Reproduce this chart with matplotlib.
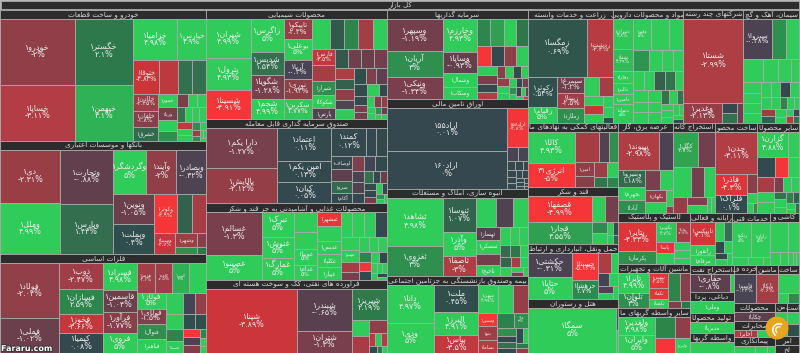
import re
from itertools import zip_longest
import matplotlib
matplotlib.use('Agg')
import matplotlib.pyplot as plt
import matplotlib.patheffects as pe
from matplotlib.colors import LinearSegmentedColormap
from matplotlib.patches import Rectangle, Circle, Wedge

# market cap style values per sector, change in percent
# *_rows: how the cells are grouped, c3 = a column of 3, r4 = a row of 4, the rest goes by the squarify rule
khodro_names = ['خودرو۱', 'خساپا۱', 'خگستر۱', 'خبهمن۱', 'خزامیا۱', 'خپارس۱', 'ختوقا۱', '', '', '', 'خلادن۱', 'خلفان۱', 'خشرق۱', 'خمور۱', 'ورنا۱']
khodro_values = [4810, 4144, 3705, 3192, 1760, 1160, 858, 627, 462, 462, 408, 400, 330, 260, 260, 200, 200, 140, 130, 120, 105, 100, 100, 100, 98, 95, 80, 60, 50, 45, 40, 30, 25, 20]
khodro_pct = [-2, -3.11, 2.1, 4.1, 4.98, 4.9, -3.83, -3.4, 1.6, 1.5, -2.45, -1.8, 1.2, 5, -1.3, 5, 3, -1.3, 5, 5, 2, 5, 5, 5, -3.5, 5, 5, 3, 5, -2.5, 3, 5, 5, 5]
khodro_rows = ['c2', 'c2', 'r2', 'r4', 'c3', 'c4', 'r3', 'r4', 'c3']

bank_names = ['دی۱', 'وملل۱', 'وتجارت۱', 'وپارس۱', 'وگردشگر۱', 'وآیند۱', 'وبصادر۱', 'ونوین۱', 'وبملت۱', 'وکوثر۱', '', '', 'وسینا۱', 'وشهر۱']
bank_values = [3127, 3009, 2756, 2600, 1419, 1290, 1290, 1200, 1200, 858, 585, 546, 420, 290, 150, 130, 70]
bank_pct = [-2.31, 4.99, -0.88, 1.43, 5, -2, -0.32, -1.05, 0.4, -4.9, 1, -2.7, -3.7, -2.5, 3, -1.8, 2]
bank_rows = ['c2', 'c2', 'r3', 'c2', 'r3', 'c1', 'c2', 'c2']

felezat_names = ['فولاد۱', 'فملی۱', 'ذوب۱', 'فسازان۱', 'فخوز۱', 'کیمیا۱', 'فسراد۱', 'قاسمین۱', 'فرآور۱', 'فروی۱', 'هرمز۱', 'کاوه۱', 'کویر۱', '', 'فولاژ۱', 'فولای۱', 'فنوال۱', 'فباهنر۱', '', '', '', '', '', 'فسپا۱']
felezat_values = [3135, 1995, 1118, 1032, 840, 830, 864, 736, 660, 655, 522, 510, 495, 495, 435, 435, 406, 406, 357, 231, 231, 255, 205, 200, 168, 168, 136, 130, 128, 56, 50, 40]
felezat_pct = [-2.04, -1.02, -2.47, 2.59, -3.66, 0.08, 4.98, -1.04, -1.77, 5, -2.6, -2.5, 4, 5, 5, -1.5, 3, 5, 5, -0.1, -2.1, 5, 2.5, 5, 0.4, 0.5, -5, -0.3, -1.6, 2.5, 5, 5]
felezat_rows = ['c2', 'c4', 'c4', 'r4', 'c4', 'r3', 'c3', 'r2', 'c3', 'c3']

shimi_names = ['شیران۱', 'پترول۱', 'شسینا۱', 'زاگرس۱', 'شدیس۱', 'شگویا۱', 'شجم۱', 'تاپیکو۱', 'بوعلی۱', 'آریا۱', 'نوری۱', 'شکربن۱', '', '', '', '', '', 'فارس۱', '', 'شیراز۱', 'شکوکا۱', 'پارس۱']
shimi_values = [1677, 1333, 1247, 1024, 736, 736, 640, 560, 560, 532, 540, 540, 510, 420, 420, 410, 410, 345, 345, 322, 280, 253, 221, 221, 221, 221, 209, 190, 185, 180, 175, 176, 170, 165, 144, 144, 90, 96, 90, 80, 75, 70, 60, 50, 45, 40, 35, 30, 25]
shimi_pct = [4.99, 4.93, -4.91, 5, 1.54, -1.28, 4.99, -2.3, 5, -0.2, -1.93, 4.77, 5, 0.8, 2.5, -2.6, 5, -3.5, -2.7, 3, 5, -0.5, 0.8, -1.1, -1, -1.2, -3, 1, -2, -0.5, 5, 0.5, -1.5, -0.8, 0.3, 5, 0.1, 0.1, -1.3, -1.2, 5, -1.5, -2, 5, 5, 3, -1, 5, 5]
shimi_rows = ['c3', 'c4', 'c5', 'r5', 'c5', 'r4', 'c5', 'r3', 'r3', 'c3']

sandoq_names = ['دارا یکم۱', 'پالایش۱', 'اعتماد۱', 'امین یکم۱', 'کیان۱', 'کمند۱', '', '', 'اوصاف۱', '', 'سرو۱', 'آکام۱']
sandoq_values = [2760, 2415, 1728, 1134, 1080, 952, 280, 280, 252, 252, 231, 210, 165, 165, 165, 130, 125, 117, 100, 85, 85, 80, 75, 70, 60, 50, 40, 30, 20]
sandoq_pct = [-1.27, -2.12, 0.11, 0.13, 0.05, 0.12, 0.05, 0.1, 0.1, -0.8, 1.2, 0.2, -1.5, -0.1, 0.2, -0.3, -0.4, 0.1, 1.5, 0.1, -1, 0.1, 0.1, -1.2, 5, 0.1, 3, 5, 5]
sandoq_rows = ['c2', 'c3', 'r3', 'c4', 'r3', 'c3', 'r3']

ghaza_names = ['غسالم۱', 'غصینو۱', 'تبرک۱', 'غنوش۱', 'غمارگ۱', '', '', 'غویتا۱', 'غدام۱', 'غبشهر۱', '', 'غدیس۱', 'غکلپا۱', 'غپیاز۱', '', '', '', '', '', 'مهنو۱']
ghaza_values = [2279, 1325, 744, 651, 651, 460, 368, 368, 345, 322, 322, 299, 299, 280, 276, 276, 276, 270, 204, 204, 170, 136, 143, 130, 125, 110, 110, 105, 80, 75, 60, 50, 45, 40, 35, 30]
ghaza_pct = [-1.3, 5, 5, 5, 5, 5, 5, 5, 5, -4.6, 5, 5, 5, 5, 5, 5, 5, 0.1, 5, 5, -2.7, -1.3, 5, 5, 5, 2.5, -5, 0.2, 5, 0, 5, 5, 5, 5, 0.1, 5]
ghaza_rows = ['c2', 'c3', 'c4', 'c5', 'r4', 'c4', 'r3', 'c3']

naft_names = ['شپنا۱', 'شبندر۱', 'شتران۱', 'شپریز۱']
naft_values = [5696, 2214, 1188, 1044, 289, 289, 234, 70, 70, 70, 50, 40, 30]
naft_pct = [-3.89, -0.65, -1.3, 2.19, 5, -2.7, -2, -3.3, 5, -3, 0.2, 2, 5]
naft_rows = ['c1', 'c2', 'r1', 'c2', 'r1', 'r3']

sarmaye_names = ['وسپهر۱', 'آریان۱', 'ونیکی۱', 'وخارزم۱', 'وساپا۱', 'وشمال۱', 'وسکاب۱']
sarmaye_values = [1728, 1350, 1188, 1056, 672, 448, 384, 350, 350, 325, 300, 266, 247, 228, 220, 180, 165, 150, 135, 100, 95, 90, 80, 85, 75, 70, 60, 55, 50, 45, 40, 35, 30, 25, 20, 15]
sarmaye_pct = [-1.19, 3, -1.34, 4.93, -0.93, 5, 5, 2.6, 3.5, 5, 2, -5, 0.2, -2, 5, 5, -1.3, 0.1, -3, -1.8, 5, 0.5, 5, -2.2, 5, 5, 5, 0.3, -1.2, 3, 5, 0.1, 5, -1, 5, -4]
sarmaye_rows = ['c3', 'c4', 'r4', 'r4', 'c4', 'r4', 'c3']

oragh_names = ['اراد۱۵۵', 'اراد۱۶۰', 'اراد۱۵۸']
oragh_values = [5031, 4446, 792, 156, 132, 81, 75, 45, 60, 55, 50, 45, 40, 35, 30, 25, 20, 15, 10]
oragh_pct = [0.01, 0, -4.8, -0.2, -0.2, 0.02, 0.02, 0.02, 0.02, 0.02, 0.02, 0.02, 0.02, 0.02, 0.02, 0.02, 0.02, 0.02, 0.02]
oragh_rows = ['c2', 'r1', 'r2', 'r3']

anboh_names = ['ثشاهد۱', 'ثغزوی۱', 'ثنوسا۱', 'وآذر۱', 'ثاصفا۱', '', '', '', 'ثهساز۱', 'ثمسکن۱', '', 'ثاجیج۱']
anboh_values = [2544, 1590, 1056, 736, 608, 540, 459, 405, 310, 305, 260, 250, 170, 160, 150, 130, 120, 90, 100, 90, 80, 70, 60, 50, 40]
anboh_pct = [4.98, 3, 1.07, 5, -3, 5, -0.4, 5, -0.6, 5, -1.2, 5, 5, 5, 5, 1.3, 2, 5, 1.1, 5, -2.6, 5, 5, -1.3, 5]
anboh_rows = ['c2', 'c3', 'r3', 'c4', 'r3', 'r3']

bime_names = ['دانا۱', 'ودی۱', 'ملت۱', 'البرز۱', 'بپاس۱', 'میهن۱', '', '', 'وسین۱', 'بنو۱', 'بساما۱', '', 'ما۱']
bime_values = [1665, 1350, 1134, 924, 756, 520, 390, 390, 247, 247, 240, 240, 205, 125, 115, 100, 90, 90, 70, 60, 50]
bime_pct = [4.97, 5, 0.45, 4.91, -3.5, 4.99, 5, -2.2, -5, -2.5, -3.3, 2.4, 3, 3, 0.2, 1.5, 0.3, 0.4, 5, 2, -2]
bime_rows = ['c2', 'c3', 'r3', 'c3', 'r2', 'c4']

zeraat_names = ['زمگسا۱', 'زدشت۱', 'زکوثر۱', 'زقیام۱', 'سیمرغ۱', 'زبینا۱', 'زملارد۱']
zeraat_values = [3422, 1450, 870, 450, 432, 405, 378, 266, 247, 171, 165, 150, 110, 100, 50]
zeraat_pct = [0.69, -3.3, 0.54, 5, -1.2, -2.5, 3, 5, -2.6, 5, -3.6, 5, 5, 5, 0.5]
zeraat_rows = ['r2', 'c2', 'c3', 'r2', 'c3']

daru_names = ['دتیران۱', 'شفا۱', 'دفارا۱', 'دالبر۱', 'دامین۱', 'دتماد۱', 'وفیر۱']
daru_values = [540, 385, 210, 190, 190, 320, 493, 493, 406, 300, 240, 200, 200, 190, 185, 180, 175, 150, 150, 145, 140, 130, 125, 120, 95, 90, 80, 70, 70, 60, 50, 45, 40, 30]
daru_pct = [4.8, 4.39, 5, 5, 5, 5, 5, 5, 5, 3.2, 5, 5, 5, 5, 5, 1, 2, 5, 5, 5, 5, 5, 5, 5, 2, 5, 1.8, 5, 5, 5, 5, 5, 5, 0]
daru_rows = ['c6', 'r3', 'r4', 'r5', 'c3', 'c3']

chand_names = ['شستا۱', 'وغدیر۱']
chand_values = [4897, 740, 150, 150, 120]
chand_pct = [-2.99, -2.13, 0.1, 1.5, -1.2]
chand_rows = ['r1', 'c1', 'c2', 'c1']

siman_names = ['سبزوا۱']
siman_values = [980, 455, 455, 380, 280, 240, 160, 165, 150, 150, 140, 130, 130, 125, 120, 100, 85, 70, 60, 50, 90, 80, 70, 50, 45, 40, 40, 30]
siman_pct = [-0.28, 3, 5, 5, 5, 5, 5, 5, 5, 5, 5, 5, 5, 0.1, 5, 5, 5, 2.5, 5, 5, -2.4, 1, 5, 5, 5, -0.1, -3.3, 2]
siman_rows = ['r3', 'r4', 'c4', 'r4', 'r5']

komaki_names = ['کالا۱', 'انرژی۳۱', '', '', '', 'امین۱']
komaki_values = [1426, 1104, 690, 300, 270, 266, 209, 180, 165, 130, 110]
komaki_pct = [4.93, -5, -2.7, -0.4, 3, -2, -1.8, -2.4, 5, 2, 2.5]
komaki_rows = ['c2', 'r3', 'c2', 'r2', 'r2']

ghand_names = ['قصفها۱', 'قجار۱']
ghand_values = [1488, 1302, 312, 312, 150, 150, 70, 65, 55, 45]
ghand_pct = [-4.99, 3.55, 5, -1.2, 2.8, 5, 5, 0.5, 5, 1]
ghand_rows = ['c2', 'r2', 'c2', 'r2', 'r2']

haml_names = ['حکشتی۱', 'حتایا۱', 'حسینا۱', 'حرهشا۱']
haml_values = [1032, 903, 675, 475, 247, 133, 144, 120, 96, 90, 60]
haml_pct = [-0.31, 5, -5.14, 2.7, -2.9, 5, -0.1, 5, -0.4, 5, 5]
haml_rows = ['c2', 'c2', 'r2', 'r2']

hotel_names = ['سمگا۱']
hotel_values = [4048, 40, 40]
hotel_pct = [5, 1, 5]
hotel_rows = ['c1', 'c2']

bargh_names = ['بپیوند۱', '', 'وبنیرو۱', 'بجهرم۱', 'آبادا۱', '', '', 'بکهان۱']
bargh_values = [1440, 504, 425, 325, 325, 266, 247, 220, 220, 96, 48]
bargh_pct = [-2.98, -0.3, 1.18, 5, 3, -1.3, 5, -2.2, 5, 5, -2]
bargh_rows = ['r2', 'c3', 'r2', 'c2', 'r1', 'r1']

kane_names = ['کگل۱']
kane_values = [816, 578, 527, 372, 330, 210, 152, 152, 60, 55]
kane_pct = [3.7, -1.2, 5, -1.2, 5, -2.2, -1.5, 5, 5, 5]
kane_rows = ['r2', 'r3', 'c1', 'c2', 'r2']

felez_names = ['چدن۱', 'فاذر۱', 'فلراک۱']
felez_values = [1764, 660, 594, 200, 100, 60, 40]
felez_pct = [-3.11, -4.3, 0.1, -1.8, 5, 5, 3]
felez_rows = ['r1', 'c2', 'r1', 'r1', 'r2']

sayer_names = ['گزارن۱']
sayer_values = [720, 264, 340, 240, 220, 225, 165, 165, 128, 112, 112, 90, 85, 80, 70, 60, 50, 40, 35]
sayer_pct = [4.88, 5, 0.2, -4.9, 5, -2.8, 5, 5, -1.4, 5, 5, 2, 5, 5, 2.5, 1, 5, 5, 1.5]
sayer_rows = ['r2', 'r3', 'c3', 'r3']

lastik_names = ['پتایر۱', 'پکرمان۱', 'پکویر۱', 'پتایا۱', 'پاسا۱']
lastik_values = [1044, 468, 380, 266, 190, 190, 130, 120, 100]
lastik_pct = [-4.33, 3, 4.7, -2.7, -4.5, 5, 5, 5, 5]
lastik_rows = ['c2', 'r2', 'c2', 'c3']

rayane_names = ['تاپیکس۱', 'رانفور۱', 'مرقام۱']
rayane_values = [546, 240, 240, 168, 150, 100, 95, 80, 70, 60]
rayane_pct = [-4.1, 5, 5, 5, 1.5, 0.2, 5, 0.1, 5, 5]
rayane_rows = ['c3', 'r2']

fani_names = ['رتکو۱', 'رایان۱']
fani_values = [612, 612, 130, 120, 50]
fani_pct = [5, 5, 5, 5, 5]
fani_rows = ['r2', 'r3']

kashi_names = []
kashi_values = [470, 260, 120, 90, 60, 40, 30]
kashi_pct = [5, 5, 5, 5, 5, 5, 5]
kashi_rows = ['r2', 'r5']

mashin_names = ['تایرا۱', 'تلوان۱', 'تپمپی۱', 'تکفا۱', 'تکشا۱']
mashin_values = [580, 464, 280, 210, 170, 308, 280, 90, 60]
mashin_pct = [4.99, 3, -4.5, -4.5, 5, 2.5, -1.8, -1.5, 2]
mashin_rows = ['c2', 'c3', 'r2', 'r2']

vaset_names = ['ولغدیر۱', 'وایران۱', '', '', '', 'ولبرز۱']
vaset_values = [648, 648, 420, 300, 315, 225]
vaset_pct = [4.98, 5, 2.5, -5, -2, 5]
vaset_rows = ['c2', 'c2', 'c2']

hafari_names = ['حفاری۱']
hafari_values = [666, 72]
hafari_pct = [-0.8, 5]
hafari_rows = ['c1', 'c1']

dabaghi_names = ['وملی۱']
dabaghi_values = [500]
dabaghi_pct = [5]

tolid_names = ['مدیریا۱']
tolid_values = [500]
tolid_pct = [5]

vasete_names = ['']
vasete_values = [500]
vasete_pct = [5]

khorde_names = ['قاسم۱']
khorde_values = [500]
khorde_pct = [-0.23]

mashin2_names = ['بایکا۱']
mashin2_values = [500]
mashin2_pct = [-2.6]

sakht_names = ['', '', 'لهام۱']
sakht_values = [300, 70, 80]
sakht_pct = [5, 5, 2.8]
sakht_rows = ['r1', 'c1', 'c1']

mahsul_names = ['چکاپا۱']
mahsul_values = [500]
mahsul_pct = [-0.8]

mokhaberat_names = ['اخابر۱']
mokhaberat_values = [280, 220]
mokhaberat_pct = [-2.8, 5]
mokhaberat_rows = ['c1', 'c1']

peymankari_names = ['']
peymankari_values = [250, 150, 100]
peymankari_pct = [5, 5, 5]

min_names = ['']
min_values = [200]
min_pct = [5]

ast_names = ['']
ast_values = [120, 110]
ast_pct = [5, 0.5]

amr_names = ['']
amr_values = [100]
amr_pct = [5]

misc_names = ['', '']
misc_values = [60, 50]
misc_pct = [-3, 5]

sector_titles = ['خودرو و ساخت قطعات', 'بانکها و موسسات اعتباری', 'فلزات اساسی',
                 'محصولات شیمیایی', 'صندوق سرمایه گذاری قابل معامله', 'محصولات غذایی و آشامیدنی به جز قند و شکر', 'فراورده های نفتی، کک و سوخت هسته ای',
                 'سرمایه گذاریها', 'اوراق تامین مالی', 'انبوه سازی، املاک و مستغلات', 'بیمه وصندوق بازنشستگی به جزتامین اجتماعی',
                 'زراعت و خدمات وابسته', 'مواد و محصولات دارویی', 'شرکتهای چند رشته', 'سیمان، آهک و گچ',
                 'فعالیتهای کمکی به نهادهای ما', 'قند و شکر', 'حمل ونقل، انبارداری و ارتباط', 'هتل و رستوران',
                 'عرضه برق، گاز', 'استخراج کانه', 'ساخت محصو', 'سایر محصولا',
                 'لاستیک و پلاستیک', 'ماشین آلات و تجهیزات', 'سایر واسطه گریهای ما',
                 'رایانه و فعالی', 'خدمات فنی', 'کاشی و',
                 'استخراج نفت', 'دباغی، پردا', 'تولید محصولا', 'واسطه گریها',
                 'خرده ف', 'ماشین', 'ساخت',
                 'محصولات', 'مخابرات', 'پیمانکاری',
                 'من', 'است', 'امر', 'لخ']
sector_sizes = [26986, 23278, 20394,
                19620, 15120, 13860, 13140,
                12549, 12690, 12267, 10857,
                9520, 7952, 6720, 6272,
                5850, 5130, 4900, 4900,
                4950, 3830, 3820, 3780,
                3621, 3195, 3195,
                2193, 1938, 1530,
                1161, 946, 903, 860,
                828, 828, 792,
                722, 670, 660,
                390, 390, 210, 200]
top_rows = ['c3', 'c4', 'c4', 'r4', 'c4', 'r4', 'c3', 'r3', 'c4', 'r3', 'c3', 'r2', 'c3']
sector_names = [khodro_names, bank_names, felezat_names, shimi_names, sandoq_names, ghaza_names, naft_names,
                sarmaye_names, oragh_names, anboh_names, bime_names, zeraat_names, daru_names, chand_names, siman_names,
                komaki_names, ghand_names, haml_names, hotel_names, bargh_names, kane_names, felez_names, sayer_names,
                lastik_names, mashin_names, vaset_names, rayane_names, fani_names, kashi_names,
                hafari_names, dabaghi_names, tolid_names, vasete_names, khorde_names, mashin2_names, sakht_names,
                mahsul_names, mokhaberat_names, peymankari_names, min_names, ast_names, amr_names, misc_names]
sector_values = [khodro_values, bank_values, felezat_values, shimi_values, sandoq_values, ghaza_values, naft_values,
                 sarmaye_values, oragh_values, anboh_values, bime_values, zeraat_values, daru_values, chand_values, siman_values,
                 komaki_values, ghand_values, haml_values, hotel_values, bargh_values, kane_values, felez_values, sayer_values,
                 lastik_values, mashin_values, vaset_values, rayane_values, fani_values, kashi_values,
                 hafari_values, dabaghi_values, tolid_values, vasete_values, khorde_values, mashin2_values, sakht_values,
                 mahsul_values, mokhaberat_values, peymankari_values, min_values, ast_values, amr_values, misc_values]
sector_pct = [khodro_pct, bank_pct, felezat_pct, shimi_pct, sandoq_pct, ghaza_pct, naft_pct,
              sarmaye_pct, oragh_pct, anboh_pct, bime_pct, zeraat_pct, daru_pct, chand_pct, siman_pct,
              komaki_pct, ghand_pct, haml_pct, hotel_pct, bargh_pct, kane_pct, felez_pct, sayer_pct,
              lastik_pct, mashin_pct, vaset_pct, rayane_pct, fani_pct, kashi_pct,
              hafari_pct, dabaghi_pct, tolid_pct, vasete_pct, khorde_pct, mashin2_pct, sakht_pct,
              mahsul_pct, mokhaberat_pct, peymankari_pct, min_pct, ast_pct, amr_pct, misc_pct]
sector_rows = [khodro_rows, bank_rows, felezat_rows, shimi_rows, sandoq_rows, ghaza_rows, naft_rows,
               sarmaye_rows, oragh_rows, anboh_rows, bime_rows, zeraat_rows, daru_rows, chand_rows, siman_rows,
               komaki_rows, ghand_rows, haml_rows, hotel_rows, bargh_rows, kane_rows, felez_rows, sayer_rows,
               lastik_rows, mashin_rows, vaset_rows, rayane_rows, fani_rows, kashi_rows,
               hafari_rows, [], [], [], [], [], sakht_rows,
               [], mokhaberat_rows, [], [], [], [], []]

# persian shaping, matplotlib does not do it by itself
forms = {'ا': (0xFE8D, 0xFE8E), 'آ': (0xFE81, 0xFE82), 'د': (0xFEA9, 0xFEAA), 'ذ': (0xFEAB, 0xFEAC),
         'ر': (0xFEAD, 0xFEAE), 'ز': (0xFEAF, 0xFEB0), 'ژ': (0xFB8A, 0xFB8B), 'و': (0xFEED, 0xFEEE),
         'ب': (0xFE8F,), 'ت': (0xFE95,), 'ث': (0xFE99,), 'ج': (0xFE9D,), 'ح': (0xFEA1,), 'خ': (0xFEA5,),
         'س': (0xFEB1,), 'ش': (0xFEB5,), 'ص': (0xFEB9,), 'ض': (0xFEBD,), 'ط': (0xFEC1,), 'ظ': (0xFEC5,),
         'ع': (0xFEC9,), 'غ': (0xFECD,), 'ف': (0xFED1,), 'ق': (0xFED5,), 'ل': (0xFEDD,), 'م': (0xFEE1,),
         'ن': (0xFEE5,), 'ه': (0xFEE9,), 'پ': (0xFB56,), 'چ': (0xFB7A,), 'ک': (0xFB8E,), 'گ': (0xFB92,), 'ی': (0xFBFC,)}
right_only = [c for c in forms if len(forms[c]) == 2]


def shape_word(s):
    out = []
    for i, c in enumerate(s):
        if c not in forms:
            out.append(c)
            continue
        joins_prev = i > 0 and s[i - 1] in forms and s[i - 1] not in right_only
        joins_next = i < len(s) - 1 and s[i + 1] in forms and c not in right_only
        base = forms[c][0]
        if c in right_only:
            out.append(chr(forms[c][1] if joins_prev else base))
        elif joins_prev and joins_next:
            out.append(chr(base + 3))
        elif joins_next:
            out.append(chr(base + 2))
        elif joins_prev:
            out.append(chr(base + 1))
        else:
            out.append(chr(base))
    return ''.join(out)


def fa(s):
    # visual order: letters reversed, digit runs stay as they are
    runs = re.findall(r'[۰-۹]+|[^۰-۹]+', s)
    runs = [r if r[0] in '۰۱۲۳۴۵۶۷۸۹' else shape_word(r)[::-1] for r in runs]
    return ''.join(runs[::-1])


def fa_pct(p):
    txt = f'{p:g}'.translate(str.maketrans('0123456789', '۰۱۲۳۴۵۶۷۸۹'))
    return txt + '%'


# same row rule as d3 squarify, groups listed in rows are taken as they are
def squarify(values, x0, y0, x1, y1, rows=(), ratio=1.618):
    rects = [None] * len(values)
    total = float(sum(values))
    i0 = 0
    n = len(values)
    rows = list(rows)
    while i0 < n:
        dx, dy = x1 - x0, y1 - y0
        if rows:
            spec = rows.pop(0)
            i1 = min(n, i0 + int(spec[1:]))
            s = sum(values[i0:i1])
            as_row = spec[0] == 'r'
        else:
            i1 = i0 + 1
            s = values[i0]
            lo = hi = s
            alpha = max(dy / dx, dx / dy) / (total * ratio)
            beta = s * s * alpha
            best = max(hi / beta, beta / lo)
            while i1 < n:
                v = values[i1]
                lo2, hi2 = min(lo, v), max(hi, v)
                beta = (s + v) ** 2 * alpha
                r = max(hi2 / beta, beta / lo2)
                if r > best:
                    break
                best, lo, hi = r, lo2, hi2
                s += v
                i1 += 1
            as_row = dx < dy
        if as_row:
            y2 = y1 if i1 == n else y0 + dy * s / total
            x = x0
            for j in range(i0, i1):
                w = dx * values[j] / s
                rects[j] = (x, y0, x + w, y2)
                x += w
            y0 = y2
        else:
            x2 = x1 if i1 == n else x0 + dx * s / total
            y = y0
            for j in range(i0, i1):
                h = dy * values[j] / s
                rects[j] = (x0, y, x2, y + h)
                y += h
            x0 = x2
        total -= s
        i0 = i1
    return rects


cmap_pos = [-5, -4.9, -3.9, -3.1, -2.3, -2, -1.25, -0.85, -0.3, -0.05, 0, 0.5, 1.2, 1.5, 2.2, 2.6, 3, 3.7, 4.5, 5]
cmap_col = ['#f63538', '#f63538', '#cc3539', '#b13d44', '#993e46', '#8f3f48', '#773f4d', '#603f4c', '#4c4352', '#414554',
            '#35474f', '#2f4f4c', '#33694d', '#33704f', '#2d7a4a', '#2d874d', '#2e8f4f', '#2fa552', '#30c058', '#30cc5a']
cmap = LinearSegmentedColormap.from_list('market', [((p + 5) / 10, c) for p, c in zip(cmap_pos, cmap_col)])

fig = plt.figure(figsize=(8, 3.53), dpi=100, facecolor='#b5b5b5')
ax = fig.add_axes([0, 0, 1, 1])
ax.set_xlim(0, 800)
ax.set_ylim(353, 0)
ax.axis('off')

edge = '#a9a9a9'
bar = '#2c2c2c'
ax.add_patch(Rectangle((1, 1), 798, 8, fc=bar, ec=edge, lw=0.6))
ax.text(400, 5.2, fa('کل بازار'), color='#d8d8d8', fontsize=5, ha='center', va='center')

for rect, title, names, vals, pcts, rows in zip(squarify(sector_sizes, 0, 10, 799, 353, top_rows), sector_titles, sector_names, sector_values, sector_pct, sector_rows):
    x0, y0, x1, y1 = rect
    head = Rectangle((x0, y0), x1 - x0, 9, fc=bar, ec=edge, lw=0.6)
    ax.add_patch(head)
    t = ax.text((x0 + x1) / 2, y0 + 4.6, fa(title), color='#d8d8d8', fontsize=5.2, ha='center', va='center')
    t.set_clip_path(head)
    for cell, name, v, p in zip_longest(squarify(vals, x0, y0 + 9, x1, y1, rows), names, vals, pcts, fillvalue=''):
        cx0, cy0, cx1, cy1 = cell
        w, h = cx1 - cx0, cy1 - cy0
        ax.add_patch(Rectangle((cx0, cy0), w, h, fc=cmap((p + 5) / 10), ec=edge, lw=0.6))
        if not name or w < 13 or h < 6:
            continue
        fs = min(5.8, max(3, w / 5.5))
        if h >= 15:
            ax.text((cx0 + cx1) / 2, (cy0 + cy1) / 2 - 1, fa(name) + '\n' + fa_pct(p), color='#ececec', fontsize=fs, ha='center', va='center', linespacing=0.9)
        else:
            ax.text((cx0 + cx1) / 2, (cy0 + cy1) / 2, fa(name), color='#ececec', fontsize=min(fs, 4), ha='center', va='center')

# watermark and logo
ax.text(1, 348.5, 'Fararu.com', color='white', fontsize=5.8, fontweight='bold', ha='left', va='center',
        path_effects=[pe.withStroke(linewidth=1.2, foreground='#333333')])
ax.add_patch(Circle((777, 328), 11.5, fc='#e6a41f', ec='none', zorder=5))
ax.add_patch(Wedge((779, 330), 7, 120, 300, width=1.6, fc='white', ec='none', zorder=6))
ax.add_patch(Wedge((779, 330), 4, 120, 300, width=1.4, fc='white', ec='none', zorder=6))

fig.savefig('out.png', dpi=100, facecolor=fig.get_facecolor())
